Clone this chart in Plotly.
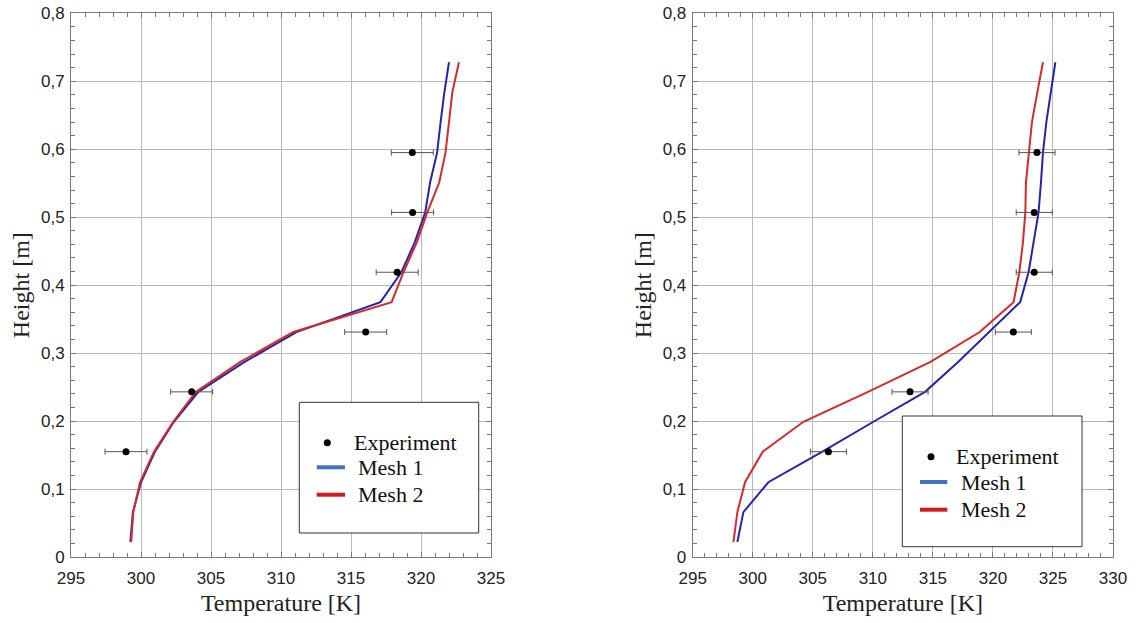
import plotly.graph_objects as go

# ---- data ----
heights = [0.022, 0.066, 0.110, 0.155, 0.199, 0.243, 0.287, 0.331, 0.375,
           0.419, 0.463, 0.507, 0.551, 0.595, 0.640, 0.684, 0.728]
left_mesh1 = [299.24, 299.42, 300.0, 301.0, 302.35, 304.1, 307.4, 311.1, 317.1,
              318.6, 319.55, 320.3, 320.65, 321.15, 321.4, 321.67, 322.0]
left_mesh2 = [299.3, 299.45, 299.93, 300.93, 302.3, 303.93, 307.1, 310.88, 317.9,
              318.75, 319.7, 320.45, 321.3, 321.75, 322.0, 322.24, 322.71]
right_mesh1 = [298.72, 299.22, 301.3, 305.8, 310.05, 314.35, 317.1, 319.7, 322.27,
               322.97, 323.4, 323.8, 324.0, 324.17, 324.45, 324.8, 325.2]
right_mesh2 = [298.39, 298.72, 299.36, 300.83, 304.22, 309.6, 314.8, 318.9, 321.72,
               322.2, 322.5, 322.7, 322.75, 322.97, 323.25, 323.7, 324.17]

exp_heights = [0.155, 0.243, 0.331, 0.419, 0.507, 0.595]
left_exp = [298.93, 303.62, 316.05, 318.3, 319.4, 319.38]
right_exp = [306.3, 313.1, 321.7, 323.44, 323.44, 323.67]
exp_err = [1.5, 1.5, 1.5, 1.5, 1.5, 1.5]

y_tickvals = [0, 0.1, 0.2, 0.3, 0.4, 0.5, 0.6, 0.7, 0.8]
y_ticktext = ["0", "0,1", "0,2", "0,3", "0,4", "0,5", "0,6", "0,7", "0,8"]
left_xticks = [295, 300, 305, 310, 315, 320, 325]
right_xticks = [295, 300, 305, 310, 315, 320, 325, 330]

names = ["Experiment", "Mesh 1", "Mesh 2"]

# ---- style ----
W, H = 1136, 623
BLUE_LINE = "#2424b0"
RED_LINE = "#d42a2a"
BLUE_LEG = "#4472c4"
RED_LEG = "#d01c1c"
GRID = "#b8b8b8"
AXIS = "#7a7a7a"
SERIF = "Liberation Serif"
SANS = "Liberation Sans"

fig = go.Figure()

panels = [
    dict(xa="x", ya="y", exp=left_exp, m1=left_mesh1, m2=left_mesh2),
    dict(xa="x2", ya="y2", exp=right_exp, m1=right_mesh1, m2=right_mesh2),
]

for p in panels:
    fig.add_trace(go.Scatter(x=p["m1"], y=heights, mode="lines", name=names[1],
                             line=dict(color=BLUE_LINE, width=2),
                             xaxis=p["xa"], yaxis=p["ya"], showlegend=False))
    fig.add_trace(go.Scatter(x=p["m2"], y=heights, mode="lines", name=names[2],
                             line=dict(color=RED_LINE, width=2),
                             xaxis=p["xa"], yaxis=p["ya"], showlegend=False))
    fig.add_trace(go.Scatter(x=p["exp"], y=exp_heights, mode="markers", name=names[0],
                             marker=dict(color="black", size=7),
                             error_x=dict(type="data", array=exp_err, color="#555555",
                                          thickness=1, width=3),
                             xaxis=p["xa"], yaxis=p["ya"], showlegend=False))


def xaxis(domain, rng, ticks, anchor):
    return dict(domain=domain, range=rng, tickvals=ticks, showgrid=True,
                gridcolor=GRID, gridwidth=1, showline=True, linecolor=AXIS,
                linewidth=1, mirror="ticks", ticks="inside", ticklen=5,
                tickcolor=AXIS, zeroline=False, automargin=False, anchor=anchor,
                minor=dict(dtick=1, ticks="inside", ticklen=4, tickcolor=AXIS,
                           showgrid=False),
                tickfont=dict(family=SANS, size=17, color="#222222"),
                ticklabelstandoff=6,
                title=dict(text="Temperature [K]",
                           font=dict(family=SERIF, size=24, color="#222222"),
                           standoff=6))


def yaxis(domain, anchor):
    return dict(domain=domain, range=[0, 0.8], tickvals=y_tickvals,
                ticktext=y_ticktext, showgrid=True, gridcolor=GRID, gridwidth=1,
                showline=True, linecolor=AXIS, linewidth=1, mirror="ticks",
                ticks="inside", ticklen=5, tickcolor=AXIS, zeroline=False,
                anchor=anchor, automargin=False,
                minor=dict(dtick=0.02, ticks="inside", ticklen=4, tickcolor=AXIS,
                           showgrid=False),
                tickfont=dict(family=SANS, size=17, color="#222222"),
                ticklabelstandoff=2,
                title=dict(text="Height [m]",
                           font=dict(family=SERIF, size=24, color="#222222"),
                           standoff=4))


# manual legends (pixel positions in the figure)
legends = [
    dict(box=(299.3, 402.3, 478.7, 533), dot=(327.3, 442.7), line=(316.7, 345),
         rows=(442.7, 467.3, 494.7), text_x=(351.7, 356, 356)),
    dict(box=(902.3, 416, 1082, 546.7), dot=(931, 456.7), line=(920, 947.3),
         rows=(456.7, 482, 509.7), text_x=(954.3, 959, 959)),
]

px = lambda v: v / W
py = lambda v: 1 - v / H
shapes = []
annotations = []
for lg in legends:
    x0, y0, x1, y1 = lg["box"]
    shapes.append(dict(type="rect", xref="paper", yref="paper", layer="above",
                       x0=px(x0), x1=px(x1), y0=py(y1), y1=py(y0),
                       line=dict(color="#333333", width=1), fillcolor="white"))
    dx, dy = lg["dot"]
    r = 3.5
    shapes.append(dict(type="circle", xref="paper", yref="paper", layer="above",
                       x0=px(dx - r), x1=px(dx + r), y0=py(dy + r), y1=py(dy - r),
                       line=dict(color="black", width=0), fillcolor="black"))
    for row, col in zip(lg["rows"][1:], [BLUE_LEG, RED_LEG]):
        shapes.append(dict(type="line", xref="paper", yref="paper", layer="above",
                           x0=px(lg["line"][0]), x1=px(lg["line"][1]),
                           y0=py(row), y1=py(row),
                           line=dict(color=col, width=4)))
    for name, row, tx in zip(names, lg["rows"], lg["text_x"]):
        annotations.append(dict(text=name, xref="paper", yref="paper",
                                x=px(tx), y=py(row), xanchor="left", yanchor="middle",
                                showarrow=False,
                                font=dict(family=SERIF, size=22, color="#111111")))

ydom = [1 - 557 / H, 1 - 13.3 / H]
fig.update_layout(
    width=W, height=H,
    margin=dict(l=0, r=0, t=0, b=0),
    paper_bgcolor="white", plot_bgcolor="white",
    showlegend=False,
    xaxis=xaxis([71 / W, 491 / W], [295, 325], left_xticks, "y"),
    yaxis=yaxis(ydom, "x"),
    xaxis2=xaxis([692.7 / W, 1113 / W], [295, 330], right_xticks, "y2"),
    yaxis2=yaxis(ydom, "x2"),
    shapes=shapes,
    annotations=annotations,
)

fig.write_html("out.html",
               config={"displayModeBar": False},
               post_script="document.body.style.margin='0';"
                           "document.body.style.overflow='hidden';")
